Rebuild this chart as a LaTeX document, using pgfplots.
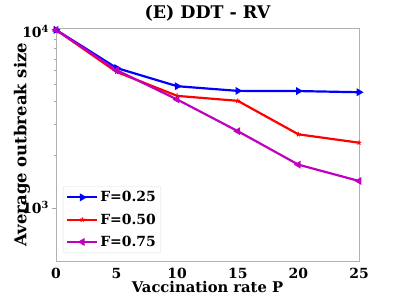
\documentclass[border=0pt]{standalone}
\usepackage{fontspec}
\setmainfont{DejaVu Serif}
\usepackage{pgfplots}
\pgfplotsset{compat=1.18}
\begin{document}
\begin{tikzpicture}[font=\bfseries\fontsize{14}{17}\selectfont]
\useasboundingbox (-56bp,-39bp) rectangle (343bp,261bp);
\begin{axis}[
  at={(0,0)}, anchor=south west,
  scale only axis, width=303bp, height=233bp,
  ymode=log, xmin=0, xmax=25, ymin=500, ymax=10450,
  xtick={0,5,10,15,20,25},
  xticklabels={0,5,10,15,20,25},
  ytick={1000,10000},
  yticklabels={10\textsuperscript{3},10\textsuperscript{4}},
  ytick pos=left,
  tick style={gray!70}, tick align=outside,
  major tick length=3.5bp, minor tick length=2bp,
  xtick style={draw=none},
  axis line style={gray!60, line width=0.8pt},
  xlabel={Vaccination rate P}, ylabel={Average outbreak size},
  title={(E) DDT - RV},
  title style={font=\bfseries\fontsize{17.5}{20}\selectfont, at={(axis description cs:0.5,1)}, anchor=base, yshift=3.5bp},
  xlabel style={font=\bfseries\fontsize{14.8}{17}\selectfont, at={(axis description cs:0.5,0)}, anchor=center, yshift=-26bp},
  ylabel style={font=\bfseries\fontsize{16.5}{19}\selectfont, at={(axis description cs:-0.112,0.5)}, anchor=center},
  xticklabel style={anchor=base, yshift=-14bp},
  legend style={at={(0.023,0.034)}, anchor=south west, draw=gray!25, rounded corners=2pt, font=\bfseries\fontsize{14}{17}\selectfont, row sep=6.5pt, inner sep=3pt},
  legend image code/.code={\draw[#1] (0bp,0bp) -- (15bp,0bp) plot coordinates {(15bp,0bp)}; \draw[#1] (15bp,0bp) -- (30bp,0bp);},
  legend cell align=left,
  clip=false,
]
\addplot[blue, line width=2.2pt, mark=triangle*, mark options={rotate=-90, scale=1.2}] coordinates {(0,10200) (5,6200) (10,4890) (15,4600) (20,4590) (25,4520)};
\addplot[red, line width=2.2pt, mark=star, mark options={scale=1.2, line width=1pt}] coordinates {(0,10200) (5,5890) (10,4310) (15,4040) (20,2610) (25,2340)};
\addplot[color={rgb,255:red,191;green,0;blue,191}, line width=2.2pt, mark=triangle*, mark options={rotate=90, scale=1.2}] coordinates {(0,10200) (5,6030) (10,4110) (15,2720) (20,1757) (25,1420)};
\legend{F=0.25,F=0.50,F=0.75}
\end{axis}
\end{tikzpicture}
\end{document}
